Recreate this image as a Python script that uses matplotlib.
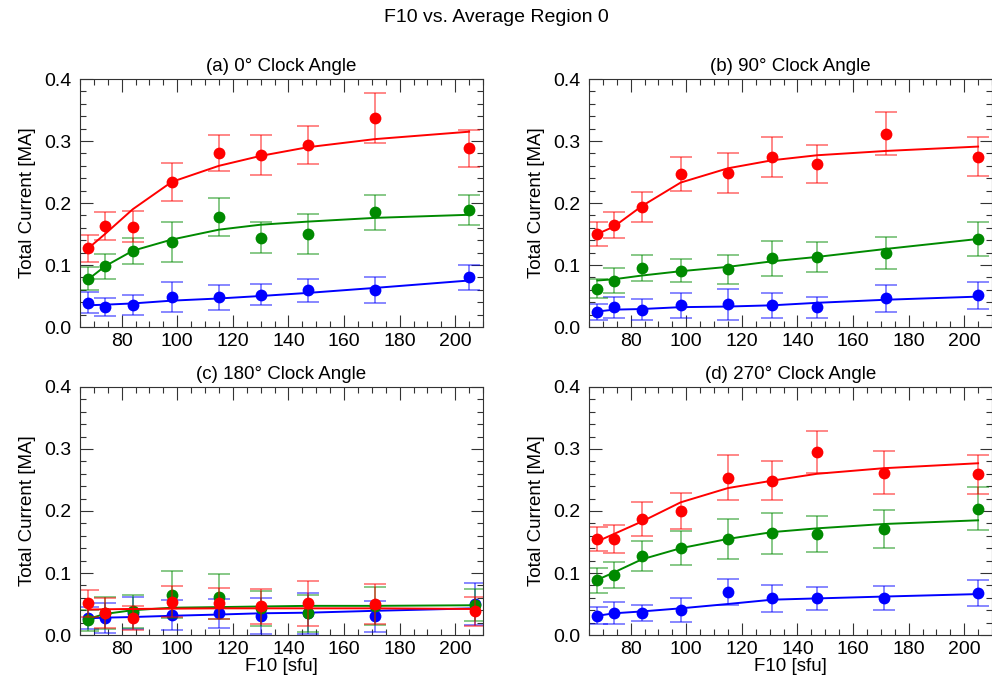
import matplotlib
matplotlib.use("Agg")
import matplotlib.pyplot as plt
from matplotlib.ticker import MultipleLocator, FormatStrFormatter

plt.rcParams['font.family'] = ['Liberation Sans', 'DejaVu Sans']

# Titles of the four panels
titles = ["(a) 0° Clock Angle", "(b) 90° Clock Angle",
          "(c) 180° Clock Angle", "(d) 270° Clock Angle"]

# F10 bin centres per panel
f10 = [[68, 74, 84, 98, 115, 130, 147, 171, 205],
       [68, 74, 84, 98, 115, 131, 147, 172, 205],
       [68, 74, 84, 98, 115, 130, 147, 171, 207],
       [68, 74, 84, 98, 115, 131, 147, 171, 205]]

# Red series: values, errors, fit (rows = panels a..d)
red_y = [[0.127, 0.163, 0.162, 0.234, 0.281, 0.277, 0.294, 0.337, 0.288],
         [0.150, 0.164, 0.194, 0.247, 0.248, 0.274, 0.263, 0.312, 0.275],
         [0.051, 0.035, 0.027, 0.054, 0.051, 0.046, 0.051, 0.050, 0.038],
         [0.155, 0.155, 0.187, 0.200, 0.254, 0.249, 0.295, 0.262, 0.259]]
red_err = [[0.022, 0.022, 0.025, 0.030, 0.029, 0.032, 0.031, 0.040, 0.030],
           [0.019, 0.021, 0.024, 0.028, 0.032, 0.032, 0.031, 0.034, 0.031],
           [0.022, 0.024, 0.019, 0.025, 0.025, 0.029, 0.036, 0.032, 0.024],
           [0.019, 0.023, 0.028, 0.029, 0.036, 0.032, 0.034, 0.035, 0.031]]
red_fit = [[0.127, 0.150, 0.190, 0.234, 0.260, 0.276, 0.290, 0.303, 0.315],
           [0.150, 0.162, 0.195, 0.233, 0.256, 0.269, 0.277, 0.284, 0.291],
           [0.041, 0.0415, 0.042, 0.0425, 0.043, 0.043, 0.043, 0.043, 0.042],
           [0.151, 0.163, 0.183, 0.214, 0.237, 0.249, 0.260, 0.269, 0.277]]

# Green series
green_y = [[0.078, 0.098, 0.122, 0.137, 0.177, 0.144, 0.150, 0.185, 0.189],
           [0.062, 0.075, 0.095, 0.091, 0.093, 0.111, 0.113, 0.119, 0.142],
           [0.024, 0.035, 0.038, 0.065, 0.062, 0.043, 0.035, 0.047, 0.048],
           [0.088, 0.097, 0.128, 0.140, 0.155, 0.164, 0.163, 0.171, 0.204]]
green_err = [[0.019, 0.020, 0.021, 0.032, 0.031, 0.025, 0.033, 0.028, 0.024],
             [0.015, 0.020, 0.021, 0.018, 0.023, 0.028, 0.024, 0.026, 0.027],
             [0.017, 0.026, 0.026, 0.038, 0.036, 0.028, 0.030, 0.031, 0.026],
             [0.020, 0.021, 0.024, 0.027, 0.032, 0.033, 0.029, 0.030, 0.034]]
green_fit = [[0.077, 0.098, 0.123, 0.141, 0.157, 0.165, 0.170, 0.176, 0.181],
             [0.075, 0.077, 0.083, 0.090, 0.097, 0.106, 0.113, 0.126, 0.142],
             [0.026, 0.034, 0.040, 0.044, 0.045, 0.046, 0.047, 0.047, 0.048],
             [0.089, 0.101, 0.122, 0.140, 0.155, 0.166, 0.172, 0.179, 0.185]]

# Blue series
blue_y = [[0.039, 0.032, 0.036, 0.048, 0.048, 0.052, 0.059, 0.060, 0.080],
          [0.024, 0.032, 0.028, 0.035, 0.037, 0.035, 0.032, 0.046, 0.051],
          [0.027, 0.028, 0.035, 0.032, 0.035, 0.030, 0.035, 0.030, 0.050],
          [0.031, 0.035, 0.036, 0.040, 0.069, 0.059, 0.059, 0.060, 0.067]]
blue_err = [[0.017, 0.015, 0.016, 0.024, 0.020, 0.017, 0.019, 0.021, 0.020],
            [0.013, 0.017, 0.017, 0.020, 0.025, 0.020, 0.017, 0.022, 0.022],
            [0.018, 0.024, 0.026, 0.024, 0.023, 0.029, 0.033, 0.025, 0.034],
            [0.014, 0.018, 0.013, 0.019, 0.021, 0.022, 0.018, 0.019, 0.021]]
blue_fit = [[0.035, 0.036, 0.038, 0.0425, 0.046, 0.050, 0.055, 0.063, 0.075],
            [0.025, 0.028, 0.029, 0.032, 0.033, 0.035, 0.039, 0.044, 0.049],
            [0.027, 0.028, 0.029, 0.031, 0.033, 0.035, 0.036, 0.039, 0.043],
            [0.031, 0.035, 0.038, 0.043, 0.050, 0.057, 0.059, 0.062, 0.066]]

series = [(blue_y, blue_err, blue_fit, "#0000ff"),
          (green_y, green_err, green_fit, "#008a00"),
          (red_y, red_err, red_fit, "#ff0000")]

W, H = 992, 682
fig = plt.figure(figsize=(W / 100, H / 100), dpi=100)
fig.suptitle("F10 vs. Average Region 0", y=1 - 18 / H, va="center", fontsize=14)

# axes boxes in pixels: left, top, right, bottom
boxes = [(80, 79, 483, 327), (589, 79, 992, 327),
         (80, 387, 483, 635), (589, 387, 992, 635)]

for k in range(4):
    l, t, r, b = boxes[k]
    ax = fig.add_axes([l / W, 1 - b / H, (r - l) / W, (b - t) / H])
    for y, e, fit, c in series:
        ax.errorbar(f10[k], y[k], yerr=e[k], fmt="none", ecolor=c, alpha=0.55,
                    elinewidth=1.2, capsize=8, capthick=1.2)
        ax.plot(f10[k], fit[k], "-", color=c, lw=1.4)
        ax.plot(f10[k], y[k], "o", color=c, ms=8.5, mec="none")
    ax.set_xlim(65, 210)
    ax.set_ylim(0, 0.4)
    ax.xaxis.set_major_locator(MultipleLocator(20))
    ax.xaxis.set_minor_locator(MultipleLocator(5))
    ax.yaxis.set_major_locator(MultipleLocator(0.1))
    ax.yaxis.set_minor_locator(MultipleLocator(0.02))
    ax.yaxis.set_major_formatter(FormatStrFormatter("%.1f"))
    ax.set_xticks([80, 100, 120, 140, 160, 180, 200])
    ax.tick_params(which="both", direction="in", top=True, right=True,
                   labelsize=14, color="#333333", width=0.8)
    ax.tick_params(which="major", length=9)
    ax.tick_params(which="minor", length=4.5)
    ax.tick_params(axis="y", which="major", pad=6)
    ax.tick_params(axis="x", which="major", pad=4)
    for s in ax.spines.values():
        s.set_linewidth(0.8)
        s.set_color("#333333")
    ax.set_title(titles[k], fontsize=13.5, pad=6)
    ax.set_ylabel("Total Current [MA]", fontsize=13.5, labelpad=6)
    if k >= 2:
        ax.set_xlabel("F10 [sfu]", fontsize=13.5, labelpad=0)

fig.savefig("out.png", dpi=100)
